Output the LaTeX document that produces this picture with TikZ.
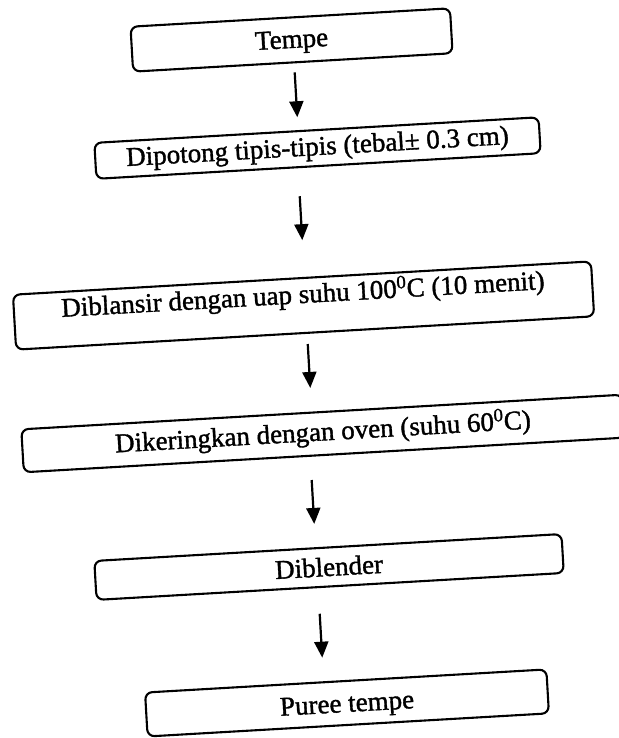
\documentclass[tikz,border=0pt]{standalone}
\usepackage{fontspec}
\setmainfont[FakeBold=1.3]{Liberation Serif}
\usetikzlibrary{arrows.meta}
\begin{document}
\begin{tikzpicture}[x=1pt,y=-1pt,
  box/.style={draw, line width=2.1pt, rounded corners=7pt, inner xsep=0pt, inner ysep=0pt,
    align=center, font=\fontsize{27}{32}\selectfont, transform shape},
  flow/.style={line width=2.2pt, -{Triangle[length=16pt,width=14pt]}}]
\useasboundingbox (0,0) rectangle (618,738);
\fill[white] (0,0) rectangle (618,738);
\begin{scope}[rotate around={3.3:(309,369)}]
\node[box, minimum width=320pt, text height=30.5pt, text depth=14.5pt] (n1) at (310.5,39.5) {Tempe};
\node[box, minimum width=445pt, text height=25pt, text depth=11pt] (n2) at (330.2,148.9) {Dipotong tipis-tipis (tebal± 0.3 cm)};
\node[box, minimum width=579pt, text height=25pt, text depth=30pt] (n3) at (307.2,305.3) {Diblansir dengan uap suhu 100\textsuperscript{0}C (10 menit)};
\node[box, minimum width=602pt, text height=28.5pt, text depth=14.5pt] (n4) at (319.3,434.2) {Dikeringkan dengan oven (suhu 60\textsuperscript{0}C)};
\node[box, minimum width=468pt, text height=28.5pt, text depth=10.5pt] (n5) at (317.6,567.8) {Diblender};
\node[box, minimum width=402pt, text height=31pt, text depth=13pt] (n6) at (327.7,704.6) {Puree tempe};
\coordinate (a1s) at (311.8,72);  \coordinate (a1e) at (311.8,117);
\coordinate (a2s) at (309.7,196); \coordinate (a2e) at (309.7,240);
\coordinate (a3s) at (309.2,344); \coordinate (a3e) at (309.2,388);
\coordinate (a4s) at (305.3,480); \coordinate (a4e) at (305.3,524);
\coordinate (a5s) at (305.6,614); \coordinate (a5e) at (305.6,658);
\draw[flow] (a1s) -- (a1e);
\draw[flow] (a2s) -- (a2e);
\draw[flow] (a3s) -- (a3e);
\draw[flow] (a4s) -- (a4e);
\draw[flow] (a5s) -- (a5e);
\end{scope}
\end{tikzpicture}
\end{document}
